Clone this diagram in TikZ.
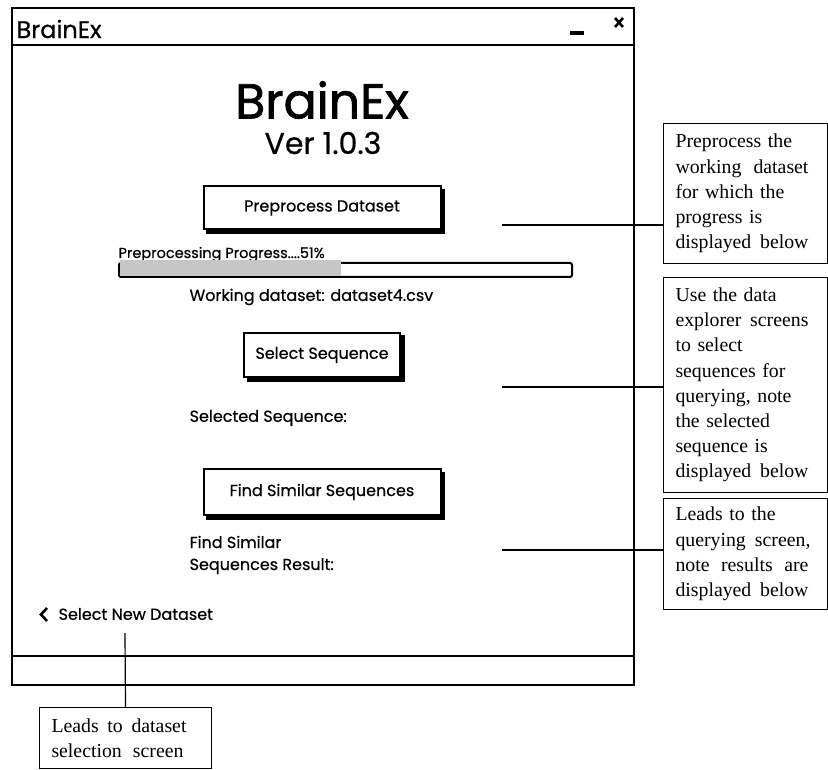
\documentclass[tikz,border=0pt]{standalone}
\usepackage{fontspec}
\setmainfont{Liberation Serif}
\newfontfamily\mockfont[FakeBold=0.6]{Poppins}
\newfontfamily\headfont[FakeBold=1.4]{Poppins}
\newcommand{\fullline}[2][133pt]{\makebox[#1][s]{\spaceskip=0pt\xspaceskip=0pt\relax #2}}
\usetikzlibrary{positioning,shadows}

\begin{document}
\begin{tikzpicture}[x=1pt, y=-1pt, line width=1.2pt,
    btn/.style={draw, line width=2pt, fill=white, font=\mockfont\fontsize{16}{19}\selectfont,
      copy shadow={shadow xshift=3.5pt, shadow yshift=-3.5pt, fill=black, draw=black}},
    lbl/.style={font=\mockfont\fontsize{16}{22}\selectfont, align=left, inner sep=0pt},
    note/.style={draw, line width=1pt, fill=white, font=\fontsize{19.8}{25.2}\selectfont,
      align=left, inner xsep=12pt, inner ysep=0pt, text width=140pt, minimum width=164pt, anchor=north west}]
    \useasboundingbox (0,0) rectangle (828,770);

    % window frame
    \draw [line width=2.4pt] (12,8) rectangle (634,685);
    \draw [line width=2.4pt] (12,45) -- (634,45);
    \draw [line width=2.4pt] (12,656) -- (634,656);
    \node [anchor=west, inner sep=0pt, font=\mockfont\fontsize{24}{27}\selectfont] (wintitle) at (16,29) {BrainEx};
    \draw [line width=3.5pt] (570,33) -- (584,33);
    \draw [line width=2.6pt] (615,18) -- (623,27) (623,18) -- (615,27);

    % header
    \node [font=\headfont\fontsize{49}{54}\selectfont] (title) at (322,100) {BrainEx};
    \node [font=\mockfont\fontsize{30}{33}\selectfont] (version) at (323,143) {Ver 1.0.3};

    % controls
    \node [btn, minimum width=237pt, minimum height=43pt] (preprocess) at (322,208) {Preprocess Dataset};
    \node [lbl, font=\mockfont\fontsize{14.5}{17}\selectfont, anchor=base west] (progress) at (118,258) {Preprocessing Progress....51\%};
    \node [draw, line width=2pt, rounded corners=2pt, minimum width=453pt, minimum height=14pt, anchor=north west] (bar) at (118,262) {};
    \fill [gray!45] ([shift={(2,-2)}]bar.north west) rectangle ([xshift=223pt, yshift=2pt]bar.south west);
    \node [lbl, anchor=west] (working) at (189,297) {Working dataset: dataset4.csv};

    \node [btn, minimum width=156pt, minimum height=44pt] (selseq) at (322,355) {Select Sequence};
    \node [lbl, anchor=west] (selected) at (189,418) {Selected Sequence:};

    \node [btn, minimum width=237pt, minimum height=46pt] (findsim) at (322,492) {Find Similar Sequences};
    \node [lbl, anchor=west] (result) at (189,555) {Find Similar\\Sequences Result:};

    \draw [line width=2.6pt] (47,608) -- (41,614.5) -- (47,621);
    \node [lbl, anchor=west] (newdata) at (58,614) {Select New Dataset};

    % callouts
    \node [note, minimum height=140pt] (note1) at (663,123) {Preprocess the\\\fullline{working dataset}\\for which the\\progress is\\\fullline{displayed below}};
    \node [note, minimum height=215pt] (note2) at (663,277) {Use the data\\\fullline{explorer screens}\\to select\\sequences for\\querying, note\\the selected\\sequence is\\\fullline{displayed below}};
    \node [note, minimum height=111pt] (note3) at (663,498) {Leads to the\\\fullline[135pt]{querying screen,}\\\fullline{note results are}\\\fullline{displayed below}};
    \node [note, text width=148pt, minimum width=172pt, minimum height=61pt] (note4) at (39,707) {\fullline[135pt]{Leads to dataset}\\\fullline[132pt]{selection screen}};

    \coordinate (c1) at (502,225);
    \coordinate (c2) at (502,387);
    \coordinate (c3) at (502,550);
    \coordinate (c4) at (125,633);
    \draw (c1) -- (c1 -| note1.west);
    \draw (c2) -- (c2 -| note2.west);
    \draw (c3) -- (c3 -| note3.west);
    \draw (c4) -- (note4.north);
\end{tikzpicture}
\end{document}
